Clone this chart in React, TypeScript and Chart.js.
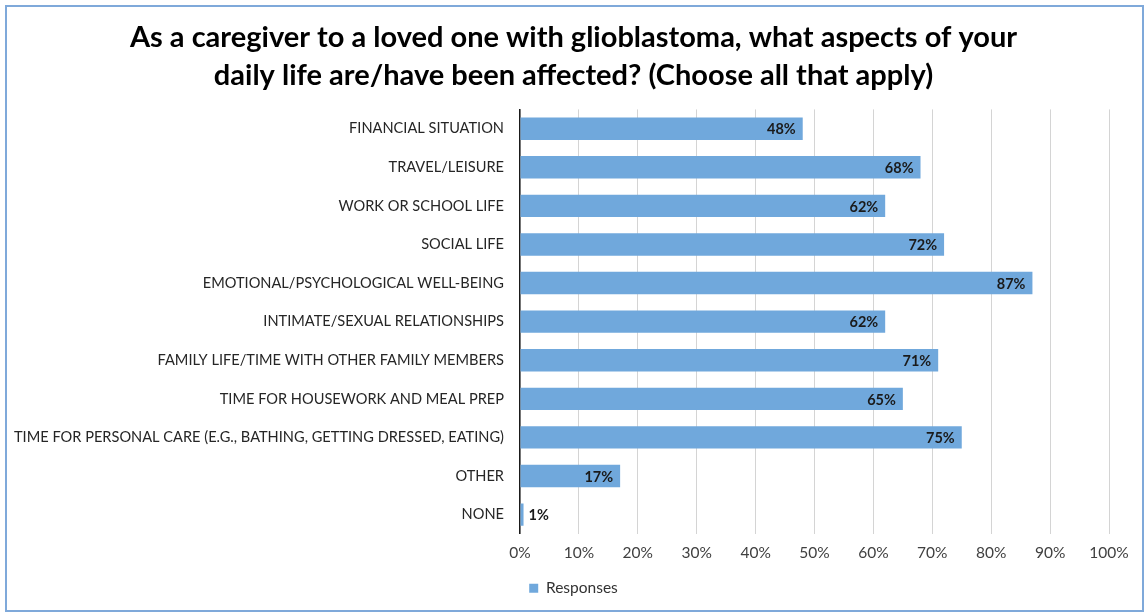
import React, { useEffect, useRef } from "react";
import { Chart, registerables } from "chart.js";

Chart.register(...registerables);

const categories = [
  "FINANCIAL SITUATION",
  "TRAVEL/LEISURE",
  "WORK OR SCHOOL LIFE",
  "SOCIAL LIFE",
  "EMOTIONAL/PSYCHOLOGICAL WELL-BEING",
  "INTIMATE/SEXUAL RELATIONSHIPS",
  "FAMILY LIFE/TIME WITH OTHER FAMILY MEMBERS",
  "TIME FOR HOUSEWORK AND MEAL PREP",
  "TIME FOR PERSONAL CARE (E.G., BATHING, GETTING DRESSED, EATING)",
  "OTHER",
  "NONE",
];
const responses = [48, 68, 62, 72, 87, 62, 71, 65, 75, 17, 0.6];
const titleLines = [
  "As a caregiver to a loved one with glioblastoma, what aspects of your",
  "daily life are/have been affected? (Choose all that apply)",
];
const seriesName = "Responses";

const FONT = "Lato, 'Open Sans', sans-serif";
const BAR = "#70a8dc";

const dataLabels = {
  id: "dataLabels",
  afterDatasetsDraw(chart: any) {
    const ctx = chart.ctx;
    const meta = chart.getDatasetMeta(0);
    ctx.save();
    ctx.font = `bold 14.5px ${FONT}`;
    ctx.fillStyle = "#1a1a1a";
    ctx.textBaseline = "middle";
    meta.data.forEach((bar: any, i: number) => {
      const v = chart.data.datasets[0].data[i] as number;
      const txt = Math.round(v) + "%";
      const w = ctx.measureText(txt).width;
      const barW = bar.x - bar.base;
      if (barW > w + 12) {
        ctx.textAlign = "right";
        ctx.fillText(txt, bar.x - 7, bar.y + 1);
      } else {
        ctx.textAlign = "left";
        ctx.fillText(txt, bar.x + 5, bar.y + 1);
      }
    });
    ctx.restore();
  },
};

export default function App() {
  const ref = useRef<HTMLCanvasElement | null>(null);
  useEffect(() => {
    document.body.style.margin = "0";
    const chart = new Chart(ref.current!, {
      type: "bar",
      data: {
        labels: categories,
        datasets: [
          {
            label: seriesName,
            data: responses,
            backgroundColor: BAR,
            borderWidth: 0,
            categoryPercentage: 1,
            barPercentage: 0.58,
          },
        ],
      },
      options: {
        indexAxis: "y",
        animation: false,
        responsive: false,
        maintainAspectRatio: false,
        layout: { padding: { left: 0, right: 0, top: 6, bottom: 8 } },
        plugins: {
          title: {
            display: true,
            text: titleLines,
            color: "#000",
            font: { family: FONT, size: 29, weight: "bold", lineHeight: 1.3 },
            padding: { top: 13, bottom: 15 },
          },
          legend: {
            position: "bottom",
            labels: {
              boxWidth: 9,
              boxHeight: 9,
              color: "#333",
              font: { family: FONT, size: 15.5 },
              padding: 8,
            },
          },
          tooltip: { enabled: false },
        },
        scales: {
          x: {
            min: 0,
            max: 100,
            ticks: {
              stepSize: 10,
              callback: (v: any) => v + "%",
              color: "#404040",
              font: { family: FONT, size: 15.5 },
              padding: 10,
            },
            grid: { color: "#d4d4d4", lineWidth: 1, drawTicks: false },
            border: { display: false },
          },
          y: {
            afterFit: (s: any) => {
              s.width = 520;
            },
            ticks: {
              color: "#262626",
              font: { family: FONT, size: 14.6 },
              padding: 16,
            },
            grid: { display: false, drawTicks: false },
            border: { display: true, color: "#1a1a1a", width: 1.5 },
          },
          y2: {
            type: "category",
            position: "right",
            afterFit: (s: any) => {
              s.width = 38;
            },
            ticks: { display: false },
            grid: { display: false, drawTicks: false },
            border: { display: false },
          },
        },
      },
      plugins: [dataLabels],
    });
    return () => chart.destroy();
  }, []);
  return (
    <div style={{ position: "relative", width: 1147, height: 614, background: "#fff" }}>
      <canvas ref={ref} width={1147} height={614} style={{ position: "absolute", left: 0, top: 0 }} />
      <div
        style={{
          position: "absolute",
          left: 5,
          top: 5,
          width: 1135,
          height: 603,
          border: "2px solid #7fa9da",
          pointerEvents: "none",
        }}
      />
    </div>
  );
}
